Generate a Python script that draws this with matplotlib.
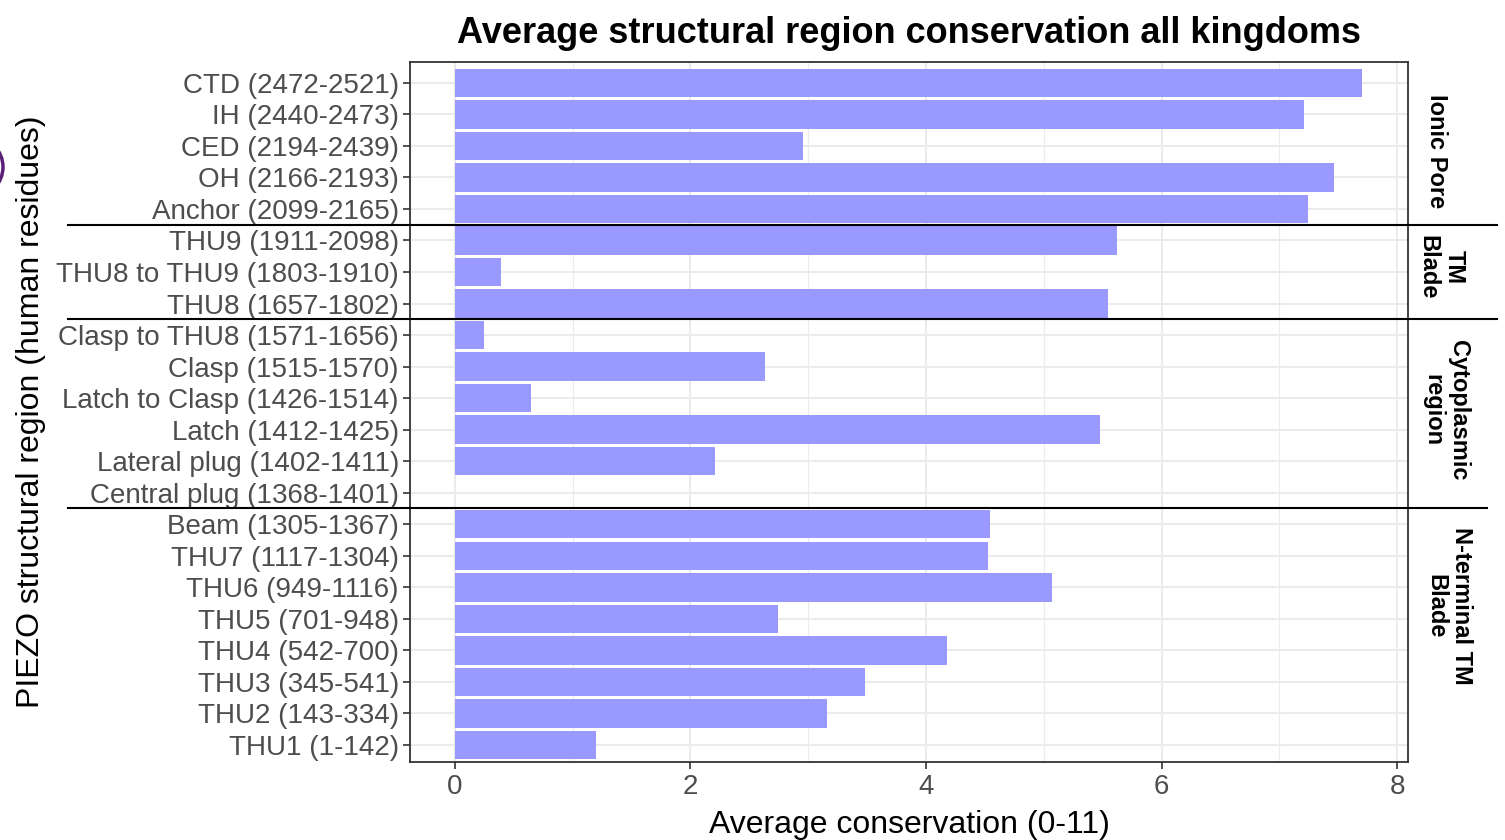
import matplotlib.pyplot as plt
import matplotlib.transforms as mtransforms
from matplotlib.patches import Ellipse
import numpy as np

# Data (top to bottom)
regions = ["CTD (2472-2521)", "IH (2440-2473)", "CED (2194-2439)", "OH (2166-2193)",
           "Anchor (2099-2165)", "THU9 (1911-2098)", "THU8 to THU9 (1803-1910)",
           "THU8 (1657-1802)", "Clasp to THU8 (1571-1656)", "Clasp (1515-1570)",
           "Latch to Clasp (1426-1514)", "Latch (1412-1425)", "Lateral plug (1402-1411)",
           "Central plug (1368-1401)", "Beam (1305-1367)", "THU7 (1117-1304)",
           "THU6 (949-1116)", "THU5 (701-948)", "THU4 (542-700)", "THU3 (345-541)",
           "THU2 (143-334)", "THU1 (1-142)"]
conservation = [7.70, 7.21, 2.955, 7.465, 7.24, 5.62, 0.39, 5.545, 0.246, 2.63,
                0.645, 5.48, 2.21, 0.0, 4.54, 4.53, 5.07, 2.74, 4.18, 3.48, 3.16, 1.20]
groups = ["Ionic Pore", "TM\nBlade", "Cytoplasmic\nregion", "N-terminal TM\nBlade"]
group_sizes = [5, 3, 6, 8]

# strip label placement (row position from top, x pixel)
label_rows = [2.17, 5.84, 10.37, 16.6]
label_x = [1437, 1441, 1446, 1449]

plt.rcParams["font.family"] = ["Liberation Sans", "DejaVu Sans"]

fig = plt.figure(figsize=(15.05, 8.4), dpi=100)
W, H = 1505, 840
ax = fig.add_axes([410 / W, 1 - 762 / H, (1408 - 410) / W, (762 - 62) / H])

n = len(regions)
y = np.arange(n)[::-1]
ax.barh(y, conservation, height=0.9, color="#9999FF", zorder=2)

ax.set_xlim(-0.382, 8.093)
ax.set_ylim(-0.54, n - 1 + 0.66)
ax.set_yticks(y)
ax.set_yticklabels(regions, fontsize=20, color="#4D4D4D")
ax.set_xticks([0, 2, 4, 6, 8])
ax.set_xticks([1, 3, 5, 7], minor=True)
ax.tick_params(axis="x", labelsize=20, labelcolor="#4D4D4D", color="#333333", length=5, width=1.2)
ax.tick_params(axis="y", color="#333333", length=5, width=1.2, pad=3)
ax.tick_params(axis="x", which="minor", length=0)
ax.grid(True, which="major", color="#EBEBEB", linewidth=1.5, zorder=0)
ax.grid(True, which="minor", axis="x", color="#EBEBEB", linewidth=0.8, zorder=0)
ax.set_axisbelow(True)
for s in ax.spines.values():
    s.set_color("#333333")
    s.set_linewidth(1.3)

ax.set_xlabel("Average conservation (0-11)", fontsize=23, labelpad=7)
ax.set_ylabel("PIEZO structural region (human residues)", fontsize=23)
ax.yaxis.set_label_coords(46 / W, 0.5,
                          transform=mtransforms.blended_transform_factory(fig.transFigure, ax.transAxes))
ax.set_title("Average structural region conservation all kingdoms", fontsize=26,
             fontweight="bold", pad=14)

# group separators and strip labels
trans = mtransforms.blended_transform_factory(fig.transFigure, ax.transData)
start = 0
ends_x = [1497, 1497, 1487]
for i, (g, size) in enumerate(zip(groups, group_sizes)):
    ax.text(label_x[i] / W, n - 1 - label_rows[i], g, transform=trans, rotation=-90,
            ha="center", va="center", fontsize=17, fontweight="bold", linespacing=1.15)
    if i < len(ends_x):
        ysep = y[start + size - 1] - 0.5
        ax.plot([68 / W, ends_x[i] / W], [ysep, ysep], color="black", linewidth=1.5,
                transform=trans, clip_on=False, zorder=5)
    start += size

# cropped circle artifact on the left edge
fig.add_artist(Ellipse((-27 / W, 1 - 167 / H), 60 / W, 60 / H, transform=fig.transFigure,
                       fill=False, edgecolor="#5B1F78", linewidth=2.5))

fig.savefig("out.png", dpi=100)
